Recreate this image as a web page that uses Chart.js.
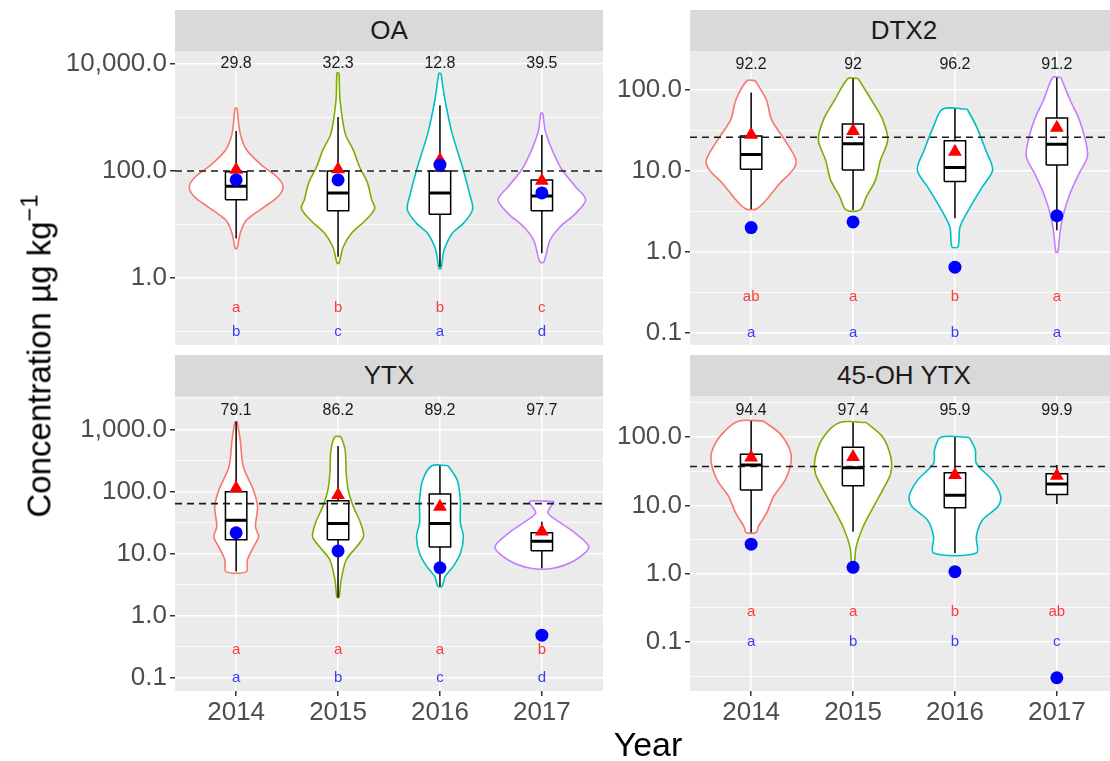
<!DOCTYPE html>
<html><head><meta charset="utf-8">
<script src="https://cdn.jsdelivr.net/npm/chart.js@4.4.0/dist/chart.umd.min.js"></script>
<style>
html{margin:0;padding:0;width:1110px;height:761px;overflow:hidden;background:#fff;}
body{margin:0;padding:0;background:#fff;width:1118px;height:761px;position:relative;overflow:hidden;font-family:"Liberation Sans",Arial,Helvetica,sans-serif;}
.cw{position:absolute;}
.cw canvas{display:block;}
.strip{position:absolute;background:#D9D9D9;color:#1A1A1A;font-size:26px;display:flex;align-items:center;justify-content:center;}
.ttl{position:absolute;white-space:nowrap;color:#000;font-size:33px;transform:translate(-50%,-50%);}
</style></head><body>
<div class="strip" style="left:175px;top:10px;width:428px;height:41px;">OA</div>
<div class="strip" style="left:690px;top:10px;width:428px;height:41px;">DTX2</div>
<div class="strip" style="left:175px;top:355px;width:428px;height:41px;">YTX</div>
<div class="strip" style="left:690px;top:355px;width:428px;height:41px;">45-OH YTX</div>
<div class="cw" style="left:0;top:29px;width:603px;height:338px;"><canvas id="c1" width="603" height="338"></canvas></div>
<div class="cw" style="left:603px;top:29px;width:515px;height:338px;"><canvas id="c2" width="515" height="338"></canvas></div>
<div class="cw" style="left:0;top:374px;width:603px;height:357px;"><canvas id="c3" width="603" height="357"></canvas></div>
<div class="cw" style="left:603px;top:374px;width:515px;height:357px;"><canvas id="c4" width="515" height="357"></canvas></div>
<div class="ttl" style="left:37px;top:356px;transform:translate(-50%,-50%) rotate(-90deg);">Concentration µg kg<sup style="font-size:0.72em;vertical-align:0.55em;">−1</sup></div>
<div class="ttl" style="left:648px;top:744px;font-size:34px;">Year</div>
<script>
const FONT = '"Liberation Sans", Arial, Helvetica, sans-serif';
const years = ['2014', '2015', '2016', '2017'];
const violinColors = ['#F8766D', '#7CAE00', '#00BFC4', '#C77CFF'];

// ---------- OA ----------
const oaPct = ['29.8', '32.3', '12.8', '39.5'];
const oaRed = ['a', 'b', 'b', 'c'];
const oaBlue = ['b', 'c', 'a', 'd'];
const oaQ1 = [29, 18, 15.5, 18];
const oaMed = [52, 39, 39, 34];
const oaQ3 = [97, 100, 100, 68];
const oaLo = [5.5, 2.5, 1.6, 2.9];
const oaHi = [560, 1020, 1700, 470];
const oaMean = [105, 108, 160, 66];
const oaBlueDot = [68, 68, 130, 39];
const oaLimit = 100;
const oaViolin2014 = [[1480,0.01],[500,0.04],[245,0.105],[120,0.27],[78,0.40],[51,0.46],[33,0.41],[21,0.27],[12,0.10],[6.9,0.04],[3.6,0.01]];
const oaViolin2015 = [[6800,0.01],[2100,0.02],[500,0.07],[245,0.15],[120,0.21],[59,0.29],[29,0.33],[20,0.36],[12,0.27],[6.8,0.13],[3.8,0.05],[1.9,0.01]];
const oaViolin2016 = [[6700,0.01],[2100,0.05],[500,0.12],[120,0.22],[38,0.29],[19,0.32],[10.5,0.23],[6.8,0.12],[3.3,0.04],[1.5,0.01]];
const oaViolin2017 = [[1200,0.01],[500,0.04],[120,0.18],[51,0.33],[29,0.43],[16,0.33],[9.1,0.18],[5.1,0.08],[2.0,0.02]];
const oaTicksMajor = [1, 100, 10000];
const oaTicksMinor = [0.1, 10, 1000];

// ---------- DTX2 ----------
const dtxPct = ['92.2', '92', '96.2', '91.2'];
const dtxRed = ['ab', 'a', 'b', 'a'];
const dtxBlue = ['a', 'a', 'b', 'a'];
const dtxQ1 = [10.5, 10.3, 7.4, 11.8];
const dtxMed = [16, 21.6, 11, 21.4];
const dtxQ3 = [27, 38, 23.6, 45];
const dtxLo = [3.4, 3.3, 2.6, 1.86];
const dtxHi = [93, 138, 58, 142];
const dtxMean = [28, 31, 17.3, 34];
const dtxBlueDot = [2.0, 2.35, 0.65, 2.8];
const dtxLimit = 26;
const dtxViolin2014 = [[130,0.04],[75,0.15],[43,0.20],[24,0.33],[13.7,0.44],[10.3,0.41],[7.0,0.28],[4.4,0.15],[3.4,0.05]];
const dtxViolin2015 = [[138,0.05],[75,0.18],[43,0.29],[24,0.34],[13.7,0.27],[7.7,0.22],[4.8,0.13],[3.3,0.07]];
const dtxViolin2016 = [[58,0.12],[35.4,0.21],[18.3,0.30],[10.3,0.37],[6.4,0.27],[3.6,0.15],[2.05,0.05],[1.16,0.03]];
const dtxViolin2017 = [[142,0.04],[75,0.13],[43,0.22],[24,0.28],[15,0.30],[9.4,0.22],[5.3,0.13],[2.8,0.06],[1.7,0.03],[1.0,0.01]];
const dtxTicksMajor = [0.1, 1, 10, 100];
const dtxTicksMinor = [0.316, 3.16, 31.6];

// ---------- YTX ----------
const ytxPct = ['79.1', '86.2', '89.2', '97.7'];
const ytxRed = ['a', 'a', 'a', 'b'];
const ytxBlue = ['a', 'b', 'c', 'd'];
const ytxQ1 = [17, 17, 13, 11.3];
const ytxMed = [35, 31, 31, 16];
const ytxQ3 = [101, 72, 93, 22];
const ytxLo = [5.2, 2.0, 3.0, 5.9];
const ytxHi = [1360, 550, 265, 33];
const ytxMean = [115, 89, 58, 23];
const ytxBlueDot = [22, 11.2, 6.0, 0.49];
const ytxLimit = 65;
const ytxViolin2014 = [[1360,0.01],[690,0.04],[257,0.07],[107,0.17],[58,0.21],[27.5,0.19],[19,0.22],[13,0.17],[8,0.11],[5.2,0.10]];
const ytxViolin2015 = [[780,0.03],[475,0.07],[200,0.08],[107,0.10],[58,0.15],[32,0.22],[19,0.25],[13,0.18],[8,0.08],[3.8,0.03],[2.0,0.01]];
const ytxViolin2016 = [[265,0.08],[155,0.17],[74,0.20],[32,0.20],[19,0.23],[10.2,0.20],[6.3,0.13],[4.3,0.05],[3.0,0.02]];
const ytxViolin2017 = [[70,0.12],[46,0.06],[32,0.18],[21.5,0.33],[13,0.46],[8,0.33],[5.9,0.11]];
const ytxTicksMajor = [0.1, 1, 10, 100, 1000];
const ytxTicksMinor = [0.316, 3.16, 31.6, 316, 3162];

// ---------- 45-OH YTX ----------
const ohPct = ['94.4', '97.4', '95.9', '99.9'];
const ohRed = ['a', 'a', 'b', 'ab'];
const ohBlue = ['a', 'b', 'b', 'c'];
const ohQ1 = [16.7, 19.4, 9.2, 14.4];
const ohMed = [39, 35.5, 14, 20.5];
const ohQ3 = [56, 71, 30, 29];
const ohLo = [4.0, 4.1, 2.0, 10.5];
const ohHi = [171, 163, 99, 39];
const ohMean = [50, 51, 27.7, 27];
const ohBlueDot = [2.7, 1.24, 1.07, 0.030];
const ohLimit = 37;
const ohViolin2014 = [[171,0.12],[113,0.28],[65,0.38],[41,0.39],[23,0.33],[13.4,0.22],[7.6,0.15],[4.9,0.07],[4.0,0.05]];
const ohViolin2015 = [[163,0.13],[100,0.29],[51,0.37],[29.5,0.37],[16.7,0.29],[9.5,0.20],[4.9,0.10],[2.45,0.03],[1.25,0.01]];
const ohViolin2016 = [[99,0.14],[65,0.20],[41,0.21],[23,0.37],[13.4,0.45],[9.5,0.42],[6.1,0.27],[3.5,0.21],[2.0,0.21]];
const ohViolin2017 = [];
const ohTicksMajor = [0.1, 1, 10, 100];
const ohTicksMinor = [0.0316, 0.316, 3.16, 31.6, 316];

// label heights (data units)
const pctY = [10000, 204, 2040, 240];
const redLetterY = 0.28;
const blueLetterY = 0.1;

function fmt(v) {
  return v.toLocaleString('en-US', {minimumFractionDigits: 1, maximumFractionDigits: 1});
}

const bgPlugin = {
  id: 'panelBg',
  beforeDraw(chart) {
    const a = chart.chartArea, ctx = chart.ctx;
    ctx.save(); ctx.fillStyle = '#EBEBEB';
    ctx.fillRect(a.left, a.top, a.right - a.left, a.bottom - a.top);
    ctx.restore();
  }
};
const textPlugin = {
  id: 'panelText',
  afterDatasetsDraw(chart) {
    const p = chart.options.plugins.panelText;
    const xs = chart.scales.x, ys = chart.scales.y, ctx = chart.ctx;
    ctx.save();
    ctx.textAlign = 'center'; ctx.textBaseline = 'middle';
    for (let i = 0; i < 4; i++) {
      const px = xs.getPixelForValue(i + 1);
      ctx.font = '16px ' + FONT;
      ctx.fillStyle = '#1A1A1A';
      ctx.fillText(p.pct[i], px, ys.getPixelForValue(p.pctY));
      ctx.font = '15px ' + FONT;
      ctx.fillStyle = '#FF3B3B';
      ctx.fillText(p.red[i], px, ys.getPixelForValue(redLetterY));
      ctx.fillStyle = '#3B3BFF';
      ctx.fillText(p.blue[i], px, ys.getPixelForValue(blueLetterY));
    }
    ctx.restore();
  }
};

function makePanel(id, cfg) {
  const bw = 0.105;
  const datasets = [];
  cfg.violins.forEach((prof, i) => {
    const c = i + 1;
    const right = prof.map(p => ({x: c + p[1], y: p[0]}));
    const left = prof.slice().reverse().map(p => ({x: c - p[1], y: p[0]}));
    const data = prof.length ? right.concat(left, [right[0]]) : [];
    datasets.push({type: 'scatter', data, showLine: true, tension: 0.3,
      borderColor: violinColors[i], borderWidth: 1.6, backgroundColor: '#FFFFFF',
      fill: 'shape', pointRadius: 0, order: 10});
  });
  for (let i = 0; i < 4; i++) {
    const c = i + 1;
    datasets.push({type: 'scatter', showLine: true, tension: 0, fill: 'shape',
      backgroundColor: '#FFFFFF', borderColor: '#000000', borderWidth: 1.5, pointRadius: 0, order: 8,
      data: [{x: c - bw, y: cfg.q1[i]}, {x: c + bw, y: cfg.q1[i]}, {x: c + bw, y: cfg.q3[i]},
             {x: c - bw, y: cfg.q3[i]}, {x: c - bw, y: cfg.q1[i]}]});
  }
  const whisk = [], med = [];
  for (let i = 0; i < 4; i++) {
    const c = i + 1;
    whisk.push({x: c, y: cfg.hi[i]}, {x: c, y: cfg.q3[i]}, {x: c, y: null},
               {x: c, y: cfg.q1[i]}, {x: c, y: cfg.lo[i]}, {x: c, y: null});
    med.push({x: c - bw, y: cfg.med[i]}, {x: c + bw, y: cfg.med[i]}, {x: c, y: null});
  }
  datasets.push({type: 'scatter', data: whisk, showLine: true, spanGaps: false,
    borderColor: '#000000', borderWidth: 1.5, pointRadius: 0, order: 7});
  datasets.push({type: 'scatter', data: med, showLine: true, spanGaps: false,
    borderColor: '#000000', borderWidth: 3, pointRadius: 0, order: 6});
  datasets.push({type: 'scatter', data: [{x: 0.4, y: cfg.limit}, {x: 4.6, y: cfg.limit}],
    showLine: true, borderColor: '#1A1A1A', borderWidth: 1.6, borderDash: [7, 5], pointRadius: 0, order: 5});
  datasets.push({type: 'scatter', data: cfg.mean.map((v, i) => ({x: i + 1, y: v})),
    pointStyle: 'triangle', pointRadius: 8, backgroundColor: '#FF0000', borderWidth: 0, order: 3});
  datasets.push({type: 'scatter', data: cfg.blueDot.map((v, i) => ({x: i + 1, y: v})),
    pointStyle: 'circle', pointRadius: 6.5, backgroundColor: '#0000FF', borderWidth: 0, order: 2});

  const major = cfg.major, allTicks = cfg.major.concat(cfg.minor).sort((a, b) => a - b);
  const isMajor = v => major.some(m => Math.abs(m - v) / m < 1e-6);

  new Chart(document.getElementById(id), {
    data: {datasets},
    plugins: [bgPlugin, textPlugin],
    options: {
      responsive: false, animation: false, devicePixelRatio: 1,
      layout: {autoPadding: false, padding: {top: 22, bottom: cfg.showX ? 0 : 22, left: 0, right: 0}},
      plugins: {legend: {display: false}, tooltip: {enabled: false},
        panelText: {pct: cfg.pct, pctY: cfg.pctY, red: cfg.red, blue: cfg.blue}},
      scales: {
        x: {type: 'linear', min: 0.4, max: 4.6, bounds: 'data',
          afterBuildTicks: s => { s.ticks = [1, 2, 3, 4].map(v => ({value: v})); },
          afterFit: s => { s.height = cfg.showX ? 40 : 0; },
          grid: {color: '#FFFFFF', lineWidth: 1.5, drawTicks: cfg.showX, tickLength: 5, tickColor: '#333333'},
          border: {display: false},
          ticks: {display: cfg.showX, autoSkip: false, maxRotation: 0, padding: 1, color: '#4D4D4D',
            font: {family: FONT, size: 26}, callback: v => years[v - 1]}
        },
        y: {type: 'logarithmic', min: cfg.min, max: cfg.max, bounds: 'data',
          afterBuildTicks: s => { s.ticks = allTicks.map(v => ({value: v})); },
          afterFit: s => { s.width = cfg.yWidth; },
          grid: {color: '#FFFFFF',
            lineWidth: c => (c.tick && isMajor(c.tick.value)) ? 1.5 : 0.8,
            tickLength: 5,
            tickColor: c => (c.tick && isMajor(c.tick.value)) ? '#333333' : 'rgba(0,0,0,0)'},
          border: {display: false},
          ticks: {autoSkip: false, padding: 3, color: '#4D4D4D', font: {family: FONT, size: 26},
            callback: v => isMajor(v) ? fmt(v) : ''}
        }
      }
    }
  });
}

makePanel('c1', {violins: [oaViolin2014, oaViolin2015, oaViolin2016, oaViolin2017],
  q1: oaQ1, med: oaMed, q3: oaQ3, lo: oaLo, hi: oaHi, mean: oaMean, blueDot: oaBlueDot, limit: oaLimit,
  pct: oaPct, pctY: pctY[0], red: oaRed, blue: oaBlue, major: oaTicksMajor, minor: oaTicksMinor,
  min: Math.pow(10, -1.252), max: Math.pow(10, 4.243), yWidth: 175, showX: false});
makePanel('c2', {violins: [dtxViolin2014, dtxViolin2015, dtxViolin2016, dtxViolin2017],
  q1: dtxQ1, med: dtxMed, q3: dtxQ3, lo: dtxLo, hi: dtxHi, mean: dtxMean, blueDot: dtxBlueDot, limit: dtxLimit,
  pct: dtxPct, pctY: pctY[1], red: dtxRed, blue: dtxBlue, major: dtxTicksMajor, minor: dtxTicksMinor,
  min: Math.pow(10, -1.148), max: Math.pow(10, 2.48), yWidth: 87, showX: false});
makePanel('c3', {violins: [ytxViolin2014, ytxViolin2015, ytxViolin2016, ytxViolin2017],
  q1: ytxQ1, med: ytxMed, q3: ytxQ3, lo: ytxLo, hi: ytxHi, mean: ytxMean, blueDot: ytxBlueDot, limit: ytxLimit,
  pct: ytxPct, pctY: pctY[2], red: ytxRed, blue: ytxBlue, major: ytxTicksMajor, minor: ytxTicksMinor,
  min: Math.pow(10, -1.21), max: Math.pow(10, 3.548), yWidth: 175, showX: true});
makePanel('c4', {violins: [ohViolin2014, ohViolin2015, ohViolin2016, ohViolin2017],
  q1: ohQ1, med: ohMed, q3: ohQ3, lo: ohLo, hi: ohHi, mean: ohMean, blueDot: ohBlueDot, limit: ohLimit,
  pct: ohPct, pctY: pctY[3], red: ohRed, blue: ohBlue, major: ohTicksMajor, minor: ohTicksMinor,
  min: Math.pow(10, -1.717), max: Math.pow(10, 2.6), yWidth: 87, showX: true});
</script>
</body></html>
